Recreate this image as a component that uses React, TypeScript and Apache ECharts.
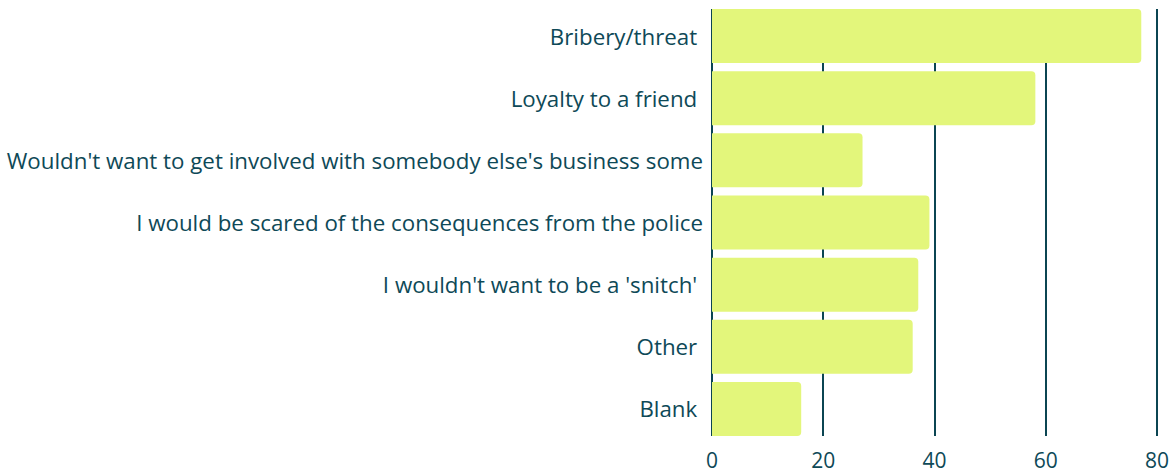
import React, { useEffect, useRef } from "react";
import * as echarts from "echarts";

const categories = [
  "Bribery/threat ",
  "Loyalty to a friend ",
  "Wouldn't want to get involved with somebody else's business some",
  "I would be scared of the consequences from the police",
  "I wouldn't want to be a 'snitch' ",
  "Other ",
  "Blank ",
];
const values = [77, 58, 27, 39, 37, 36, 16];
const xTicks = { min: 0, max: 80, interval: 20 };

export default function App() {
  const ref = useRef<HTMLDivElement>(null);
  useEffect(() => {
    document.body.style.margin = "0";
    const chart = echarts.init(ref.current!, null, { renderer: "svg" });
    const textColor = "#0e4957";
    chart.setOption({
      animation: false,
      grid: [
        { left: 712, right: 14, top: 5, bottom: 34, containLabel: false },
        { left: 712, right: 14, top: 9, bottom: 38, containLabel: false },
      ],
      xAxis: [
        {
          type: "value",
          gridIndex: 0,
          min: xTicks.min,
          max: xTicks.max,
          interval: xTicks.interval,
          show: false,
        },
        {
          type: "value",
          gridIndex: 1,
          min: xTicks.min,
          max: xTicks.max,
          interval: xTicks.interval,
          axisLine: { show: false },
          axisTick: { show: false },
          splitLine: { show: true, lineStyle: { color: "#0b4552", width: 2 } },
          axisLabel: {
            color: textColor,
            fontFamily: "Open Sans",
            fontSize: 21,
            margin: 13,
          },
          z: 0,
        },
      ],
      yAxis: [
        {
          type: "category",
          gridIndex: 0,
          data: categories,
          inverse: true,
          axisLine: { show: false },
          axisTick: { show: false },
          splitLine: { show: false },
          axisLabel: {
            color: textColor,
            fontFamily: "Open Sans",
            fontSize: 22.3,
            margin: 9,
            padding: [0, 0, 4, 0],
          },
        },
        {
          type: "category",
          gridIndex: 1,
          data: categories,
          show: false,
        },
      ],
      series: [
        {
          type: "bar",
          xAxisIndex: 0,
          yAxisIndex: 0,
          data: values,
          barCategoryGap: "13.1%",
          itemStyle: { color: "#e3f67b", borderRadius: [0, 4, 4, 0] },
          z: 5,
        },
      ],
    });
    return () => chart.dispose();
  }, []);
  return <div ref={ref} style={{ width: 1172, height: 474 }} />;
}
